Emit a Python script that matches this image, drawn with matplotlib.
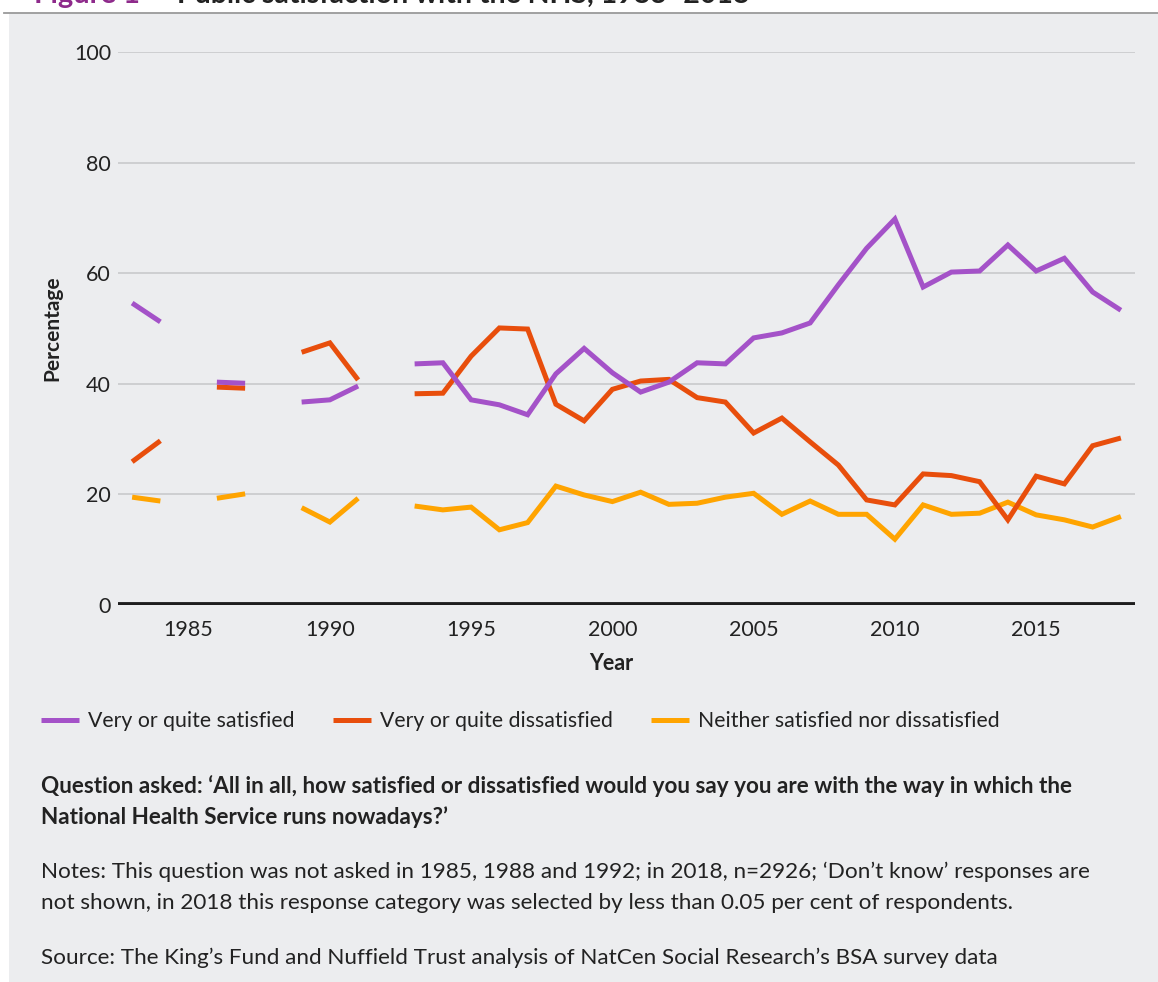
import numpy as np
import matplotlib
matplotlib.use("Agg")
import matplotlib.pyplot as plt
from matplotlib.lines import Line2D
from matplotlib.patches import Rectangle

plt.rcParams['font.family'] = ['Lato', 'DejaVu Sans']

nan = np.nan
years = list(range(1983, 2019))
satisfied = [54.6, 51.2, nan, 40.3, 40.1, nan, 36.7, 37.1, 39.6, nan, 43.6, 43.8,
             37.1, 36.2, 34.4, 41.8, 46.4, 42.0, 38.5, 40.3, 43.8, 43.6, 48.3, 49.2,
             51.0, 57.9, 64.5, 69.8, 57.5, 60.2, 60.4, 65.1, 60.4, 62.7, 56.6, 53.3]
dissatisfied = [25.9, 29.7, nan, 39.4, 39.2, nan, 45.7, 47.4, 40.7, nan, 38.2, 38.3,
                45.0, 50.1, 49.9, 36.3, 33.3, 39.0, 40.5, 40.8, 37.5, 36.7, 31.1, 33.8,
                29.5, 25.3, 19.0, 18.1, 23.7, 23.4, 22.3, 15.4, 23.3, 21.9, 28.8, 30.2]
neither = [19.5, 18.8, nan, 19.3, 20.1, nan, 17.6, 15.0, 19.3, nan, 17.9, 17.2,
           17.7, 13.6, 14.9, 21.5, 19.9, 18.7, 20.4, 18.2, 18.4, 19.5, 20.2, 16.4,
           18.8, 16.4, 16.4, 11.9, 18.1, 16.4, 16.6, 18.6, 16.3, 15.4, 14.1, 16.0]
series_names = ["Very or quite satisfied", "Very or quite dissatisfied",
                "Neither satisfied nor dissatisfied"]
xticks = [1985, 1990, 1995, 2000, 2005, 2010, 2015]
yticks = [0, 20, 40, 60, 80, 100]

C_SAT = "#A452C8"
C_DIS = "#E84E0C"
C_NEI = "#FFA400"
BG = "#ECEDEF"
TXT = "#222222"

W, H = 1158, 982
fig = plt.figure(figsize=(W / 100, H / 100), dpi=100)
fig.patch.set_facecolor("white")

def fx(px):
    return px / W

def fy(py):
    return 1 - py / H

# panel background and top rule
fig.patches.append(Rectangle((fx(9), 0), 1 - fx(9), fy(13), transform=fig.transFigure,
                             facecolor=BG, edgecolor="none", zorder=-5))
fig.lines.append(Line2D([fx(4), 1], [fy(12.5), fy(12.5)], transform=fig.transFigure,
                        color="#9a9a9a", lw=1.3, zorder=-4))

# title (cropped at the top edge, as in the reference)
fig.text(fx(34), fy(3), "Figure 1", color="#8E2A8B", fontsize=21,
         fontweight="bold", va="baseline", ha="left")
fig.text(fx(177), fy(3), "Public satisfaction with the NHS, 1983–2018", color=TXT,
         fontsize=20.5, fontweight="bold", va="baseline", ha="left")

ax = fig.add_axes([fx(118), fy(605), fx(1135) - fx(118), fy(52) - fy(605)])
ax.set_facecolor("none")
ax.set_xlim(1982.5, 2018.5)
ax.set_ylim(0, 100)

ax.plot(years, neither, color=C_NEI, lw=3.6, solid_capstyle="butt",
        solid_joinstyle="miter", label=series_names[2], zorder=3)
ax.plot(years, dissatisfied, color=C_DIS, lw=3.6, solid_capstyle="butt",
        solid_joinstyle="miter", label=series_names[1], zorder=4)
ax.plot(years, satisfied, color=C_SAT, lw=3.6, solid_capstyle="butt",
        solid_joinstyle="miter", label=series_names[0], zorder=5)

for s in ax.spines.values():
    s.set_visible(False)
ax.set_yticks(yticks)
ax.set_xticks(xticks)
ax.grid(axis="y", color="#C9CACC", lw=1.2)
ax.set_axisbelow(True)
ax.axhline(0, color="#1E1E1E", lw=4.2, zorder=6)
ax.tick_params(axis="both", length=0, labelsize=15.5, colors=TXT)
ax.tick_params(axis="y", pad=5)
ax.tick_params(axis="x", pad=10.5)

ax.set_ylabel("Percentage", fontsize=15, fontweight="bold", color=TXT)
ax.yaxis.set_label_coords((62 - 118) / 1017, 0.5)
ax.set_xlabel("Year", fontsize=15.5, fontweight="bold", color=TXT)
ax.xaxis.set_label_coords((611 - 118) / 1017, (605 - 653) / 553)

handles = [Line2D([], [], color=C_SAT, lw=3.6, solid_capstyle="butt"),
           Line2D([], [], color=C_DIS, lw=3.6, solid_capstyle="butt"),
           Line2D([], [], color=C_NEI, lw=3.6, solid_capstyle="butt")]
fig.legend(handles, series_names, loc="center left",
           bbox_to_anchor=(fx(41), fy(721)), ncol=3, frameon=False,
           fontsize=15.3, handlelength=1.78, handletextpad=0.45,
           columnspacing=1.78, borderpad=0, borderaxespad=0,
           labelcolor=TXT)

fs = 16.2
fig.text(fx(41), fy(793), "Question asked: ‘All in all, how satisfied or dissatisfied would you say you are with the way in which the",
         fontsize=fs, fontweight="bold", color=TXT, va="baseline")
fig.text(fx(41), fy(824), "National Health Service runs nowadays?’",
         fontsize=fs, fontweight="bold", color=TXT, va="baseline")
fig.text(fx(41), fy(878), "Notes: This question was not asked in 1985, 1988 and 1992; in 2018, n=2926; ‘Don’t know’ responses are",
         fontsize=fs, color=TXT, va="baseline")
fig.text(fx(41), fy(909), "not shown, in 2018 this response category was selected by less than 0.05 per cent of respondents.",
         fontsize=fs, color=TXT, va="baseline")
fig.text(fx(41), fy(964), "Source: The King’s Fund and Nuffield Trust analysis of NatCen Social Research’s BSA survey data",
         fontsize=fs, color=TXT, va="baseline")

fig.savefig("out.png", dpi=100)
